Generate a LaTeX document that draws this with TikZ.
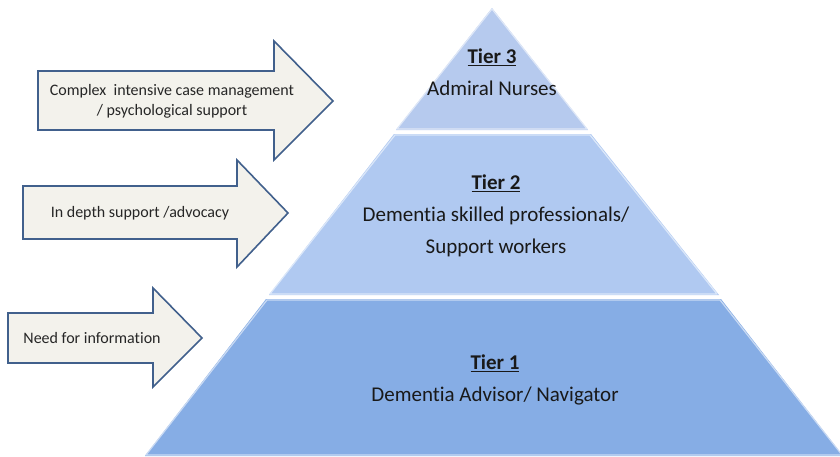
\documentclass[tikz,border=0pt]{standalone}
\usepackage{fontspec}
\setmainfont{Carlito}[Ligatures=NoCommon]
\usepackage{xcolor}
\usepackage{tikz}
\usetikzlibrary{calc}

\definecolor{tierone}{HTML}{86ADE5}
\definecolor{tiertwo}{HTML}{B0C9F1}
\definecolor{tierthree}{HTML}{B6CAEE}
\definecolor{arrowfill}{HTML}{F3F2EC}
\definecolor{arrowline}{HTML}{41608C}

\tikzset{
  tier/.style={draw=white!55!#1, line width=1.2pt, line join=round},
  needarrow/.style={fill=arrowfill, draw=arrowline, line width=1.6pt, line join=miter},
  tiertext/.style={align=center, font=\fontsize{21}{32}\selectfont, text=black!90},
  needtext/.style={align=center, font=\fontsize{16}{20}\selectfont, text=black!85}
}

\begin{document}
\begin{tikzpicture}[x=1pt,y=-1pt]
\useasboundingbox (0,0) rectangle (840,456);
% pyramid, top to bottom
\fill[tierthree] (492,8) -- (588,130) -- (396,130) -- cycle;
\draw[tier=tierthree] (492,9) -- (587,129) -- (397,129) -- cycle;
\fill[tiertwo] (394,134) -- (591,134) -- (719,295) -- (269,295) -- cycle;
\draw[tier=tiertwo] (395,135) -- (590,135) -- (717,294) -- (270,294) -- cycle;
\fill[tierone] (266,299) -- (721,299) -- (843,456) -- (145,456) -- cycle;
\draw[tier=tierone] (267,300) -- (720,300) -- (842,455) -- (146,455) -- cycle;

\node[tiertext] (t3) at (492,72) {\underline{\textbf{Tier 3}}\\Admiral Nurses};
\node[tiertext] (t2) at (496,216) {\underline{\textbf{Tier 2}}\\Dementia skilled professionals/\\Support workers};
\node[tiertext] (t1) at (495,380) {\underline{\textbf{Tier 1}}\\Dementia Advisor/ Navigator};

% arrows on the left
\draw[needarrow] (38,71) -- (274,71) -- (274,41) -- (333,101) -- (274,160) -- (274,130) -- (38,130) -- cycle;
\draw[needarrow] (23,186) -- (237,186) -- (237,160) -- (288,213) -- (237,267) -- (237,239) -- (23,239) -- cycle;
\draw[needarrow] (8,313) -- (153,313) -- (153,288) -- (202,338) -- (153,387) -- (153,363) -- (8,363) -- cycle;

\node[needtext] (n3) at (172,101) {Complex\ \ intensive case management\\/ psychological support};
\node[needtext] (n2) at (140,213) {In depth support /advocacy};
\node[needtext] (n1) at (92,338) {Need for information};
\end{tikzpicture}
\end{document}
